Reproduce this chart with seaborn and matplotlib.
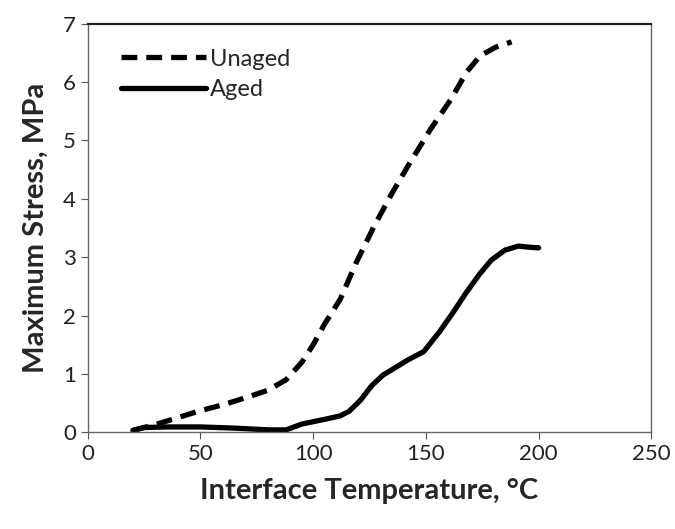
import matplotlib
matplotlib.use("Agg")
import matplotlib.pyplot as plt
import pandas as pd
import seaborn as sns

# values
unaged_temp = [20, 30, 40, 50, 60, 70, 80, 88, 95, 100, 105, 112, 119, 127, 135, 142, 152, 161, 168, 174, 181, 188]
unaged_stress = [0.03, 0.13, 0.25, 0.37, 0.47, 0.59, 0.72, 0.9, 1.2, 1.5, 1.85, 2.28, 2.9, 3.53, 4.1, 4.56, 5.19, 5.7, 6.17, 6.45, 6.6, 6.69]

aged_temp = [20, 25, 35, 50, 65, 80, 88, 95, 105, 112, 116, 121, 126, 131, 137, 142, 149, 156, 162, 168, 174, 179, 185, 191, 196, 200]
aged_stress = [0.03, 0.08, 0.09, 0.09, 0.07, 0.04, 0.04, 0.14, 0.22, 0.28, 0.36, 0.55, 0.8, 0.98, 1.12, 1.24, 1.38, 1.72, 2.05, 2.4, 2.72, 2.95, 3.12, 3.19, 3.17, 3.16]

x_ticks = [0, 50, 100, 150, 200, 250]
y_ticks = [0, 1, 2, 3, 4, 5, 6, 7]

df = pd.concat([
    pd.DataFrame({"temp": unaged_temp, "stress": unaged_stress, "series": "Unaged"}),
    pd.DataFrame({"temp": aged_temp, "stress": aged_stress, "series": "Aged"}),
], ignore_index=True)

sns.set_style("white")
plt.rcParams["font.family"] = ["Lato", "DejaVu Sans"]

fig = plt.figure(figsize=(6.75, 5.29), dpi=100)
ax = fig.add_axes([0.130, 0.183, 0.835, 0.772])

sns.lineplot(data=df, x="temp", y="stress", hue="series", style="series",
             palette={"Unaged": "black", "Aged": "black"},
             dashes={"Unaged": (3.0, 1.7), "Aged": ""},
             sort=False, linewidth=3.8, ax=ax, estimator=None)

ax.set_xlim(0, 250)
ax.set_ylim(0, 7)
ax.set_xticks(x_ticks)
ax.set_yticks(y_ticks)
ax.tick_params(axis="both", labelsize=16, direction="out", length=5, width=0.8,
               colors="#555555", labelcolor="#222222", bottom=True, left=True)
for side in ["top", "right", "bottom", "left"]:
    ax.spines[side].set_color("#666666")
    ax.spines[side].set_linewidth(1.0)
ax.spines["top"].set_color("#222222")
ax.spines["top"].set_linewidth(1.6)

ax.set_xlabel("Interface Temperature, °C", fontsize=21, fontweight="bold", labelpad=10)
ax.set_ylabel("Maximum Stress, MPa", fontsize=21, fontweight="bold", labelpad=10)

leg = ax.legend(loc="upper left", frameon=False, fontsize=17, handlelength=3.6,
                handletextpad=0.15, borderaxespad=0.3, labelspacing=0.4,
                bbox_to_anchor=(0.03, 0.98))
for line in leg.get_lines():
    line.set_linewidth(3.8)

fig.savefig("out.png", dpi=100)
